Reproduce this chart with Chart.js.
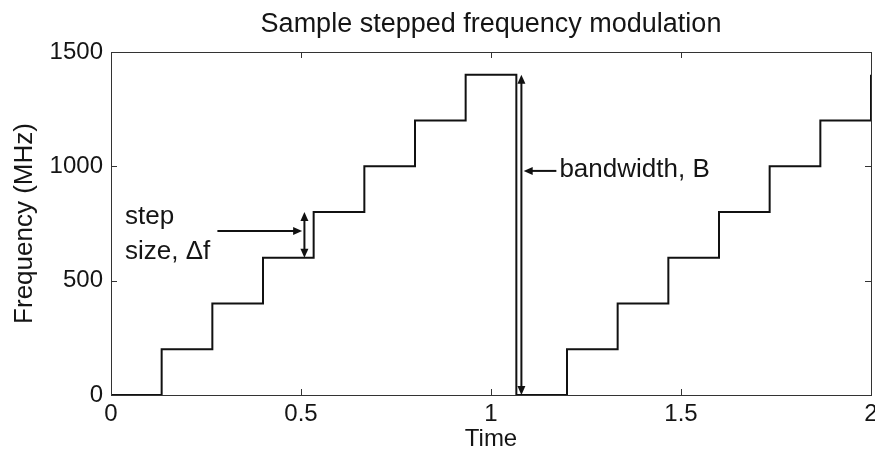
<!DOCTYPE html>
<html>
<head>
<meta charset="utf-8">
<script src="https://cdn.jsdelivr.net/npm/chart.js@4/dist/chart.umd.min.js"></script>
<style>
  html, body { margin: 0; padding: 0; background: #fff; overflow: hidden; }
  #wrap { width: 875px; height: 452px; }
</style>
</head>
<body>
<div id="wrap"><canvas id="freqChart" width="875" height="452"></canvas></div>
<script>
// step instants (time) and frequency levels (MHz)
const stepTimes = [0, 0.1333, 0.2667, 0.4, 0.5333, 0.6667, 0.8, 0.9333,
                   1.0667, 1.2, 1.3333, 1.4667, 1.6, 1.7333, 1.8667, 2];
const stepFreqs = [0, 200, 400, 600, 800, 1000, 1200, 1400,
                   0, 200, 400, 600, 800, 1000, 1200, 1400];
const xTicks = [0, 0.5, 1, 1.5, 2];
const yTicks = [0, 500, 1000, 1500];

// annotation anchors in data units
const bandwidthX = 1.08;
const bandwidthSpan = [0, 1400];
const bandwidthPointer = [1.172, 1.086, 980];   // from x, to x, at y
const stepArrowX = 0.509;
const stepSpan = [600, 800];
const stepPointer = [0.28, 0.503, 717];

const txtColor = "#151515";
const fontFam = "'Liberation Sans', Arial, Helvetica, sans-serif";

function arrowHead(ctx, x, y, dir) {
    // dir: 'up' | 'down' | 'left' | 'right'
    const L = 9, W = 4;
    ctx.beginPath();
    if (dir === "up") { ctx.moveTo(x, y); ctx.lineTo(x - W, y + L); ctx.lineTo(x + W, y + L); }
    if (dir === "down") { ctx.moveTo(x, y); ctx.lineTo(x - W, y - L); ctx.lineTo(x + W, y - L); }
    if (dir === "left") { ctx.moveTo(x, y); ctx.lineTo(x + L, y - W); ctx.lineTo(x + L, y + W); }
    if (dir === "right") { ctx.moveTo(x, y); ctx.lineTo(x - L, y - W); ctx.lineTo(x - L, y + W); }
    ctx.closePath();
    ctx.fill();
}

function seg(ctx, x1, y1, x2, y2) {
    ctx.beginPath();
    ctx.moveTo(x1, y1);
    ctx.lineTo(x2, y2);
    ctx.stroke();
}

// matlab style box, inward ticks and the arrows / labels
const decorations = {
    id: "decorations",
    afterDatasetsDraw(chart) {
        const { ctx, chartArea: a, scales: { x, y } } = chart;
        ctx.save();
        ctx.strokeStyle = "#333";
        ctx.lineWidth = 1;
        ctx.strokeRect(a.left + 0.5, a.top + 0.5, a.right - a.left, a.bottom - a.top);
        xTicks.forEach(v => {
            const px = Math.round(x.getPixelForValue(v)) + 0.5;
            seg(ctx, px, a.bottom, px, a.bottom - 6);
            seg(ctx, px, a.top, px, a.top + 6);
        });
        yTicks.forEach(v => {
            const py = Math.round(y.getPixelForValue(v)) + 0.5;
            seg(ctx, a.left, py, a.left + 6, py);
            seg(ctx, a.right, py, a.right - 6, py);
        });

        ctx.strokeStyle = "#111";
        ctx.fillStyle = "#111";
        ctx.lineWidth = 2;

        // bandwidth double arrow
        const bx = x.getPixelForValue(bandwidthX);
        const b0 = y.getPixelForValue(bandwidthSpan[0]);
        const b1 = y.getPixelForValue(bandwidthSpan[1]);
        seg(ctx, bx, b0 - 6, bx, b1 + 6);
        arrowHead(ctx, bx, b1, "up");
        arrowHead(ctx, bx, b0, "down");
        const py = y.getPixelForValue(bandwidthPointer[2]);
        seg(ctx, x.getPixelForValue(bandwidthPointer[0]), py, x.getPixelForValue(bandwidthPointer[1]) + 6, py);
        arrowHead(ctx, x.getPixelForValue(bandwidthPointer[1]), py, "left");

        // step size double arrow
        const sx = x.getPixelForValue(stepArrowX);
        const s0 = y.getPixelForValue(stepSpan[0]);
        const s1 = y.getPixelForValue(stepSpan[1]);
        seg(ctx, sx, s0 - 6, sx, s1 + 6);
        arrowHead(ctx, sx, s1, "up");
        arrowHead(ctx, sx, s0, "down");
        const qy = y.getPixelForValue(stepPointer[2]);
        seg(ctx, x.getPixelForValue(stepPointer[0]), qy, x.getPixelForValue(stepPointer[1]) - 6, qy);
        arrowHead(ctx, x.getPixelForValue(stepPointer[1]), qy, "right");

        // labels
        ctx.fillStyle = txtColor;
        ctx.font = "26px " + fontFam;
        ctx.textAlign = "left";
        ctx.textBaseline = "middle";
        ctx.fillText("bandwidth, B", x.getPixelForValue(1.18), y.getPixelForValue(985));
        ctx.fillText("step", x.getPixelForValue(0.037), y.getPixelForValue(780));
        ctx.fillText("size, \u0394f", x.getPixelForValue(0.037), y.getPixelForValue(626));
        ctx.restore();
    }
};

new Chart(document.getElementById("freqChart"), {
    type: "line",
    data: {
        labels: stepTimes,
        datasets: [{
            data: stepTimes.map((t, i) => ({ x: t, y: stepFreqs[i] })),
            stepped: "before",
            borderColor: "#111",
            borderWidth: 2,
            pointRadius: 0,
            fill: false,
            clip: false
        }]
    },
    options: {
        responsive: false,
        animation: false,
        events: [],
        layout: { padding: { left: 0, right: 4, top: 0, bottom: 0 } },
        plugins: {
            legend: { display: false },
            tooltip: { enabled: false },
            title: {
                display: true,
                fullSize: false,
                text: "Sample stepped frequency modulation",
                color: txtColor,
                font: { family: fontFam, size: 27, weight: "normal" },
                padding: { top: 8, bottom: 11.6 }
            }
        },
        scales: {
            x: {
                type: "linear",
                min: 0,
                max: 2,
                grid: { display: false, drawTicks: false },
                border: { display: false },
                ticks: {
                    stepSize: 0.5,
                    padding: 5,
                    color: txtColor,
                    maxRotation: 0,
                    font: { family: fontFam, size: 24 },
                    callback: v => String(v)
                },
                title: {
                    display: true,
                    text: "Time",
                    color: txtColor,
                    font: { family: fontFam, size: 24 },
                    padding: { top: 0, bottom: -2 }
                },
                afterFit(scale) {
                    scale.height = 57;
                    scale.paddingLeft = 0;
                    scale.paddingRight = 0;
                }
            },
            y: {
                min: 0,
                max: 1500,
                grid: { display: false, drawTicks: false },
                border: { display: false },
                ticks: {
                    stepSize: 500,
                    padding: 8,
                    color: txtColor,
                    font: { family: fontFam, size: 24 },
                    callback: v => String(v)
                },
                title: {
                    display: true,
                    text: "Frequency (MHz)",
                    color: txtColor,
                    font: { family: fontFam, size: 26 },
                    padding: { top: 9, bottom: 0 }
                },
                afterFit(scale) {
                    scale.width = 111;
                    scale.paddingTop = 0;
                    scale.paddingBottom = 0;
                }
            }
        }
    },
    plugins: [decorations]
});
</script>
</body>
</html>
